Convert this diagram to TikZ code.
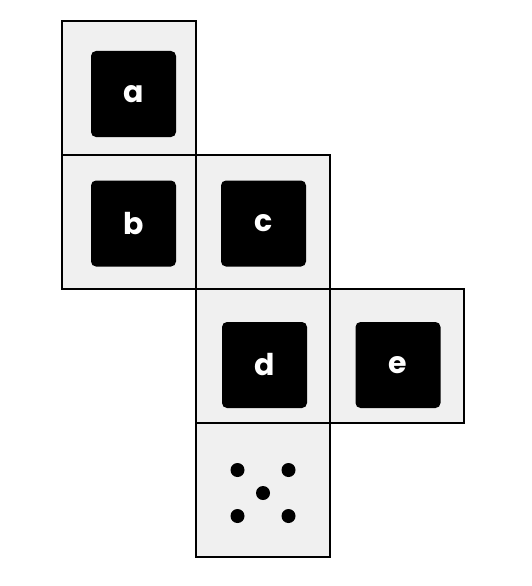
\documentclass[tikz,border=0pt]{standalone}
\usepackage{fontspec}
\setmainfont{Poppins}
\usetikzlibrary{positioning}

\begin{document}
\begin{tikzpicture}[
    x=1pt, y=-1pt,
    face/.style={rectangle, draw, line width=2pt, fill={rgb,255:red,240;green,240;blue,240},
        minimum size=134pt, inner sep=0pt, outer sep=0pt},
    blob/.style={rectangle, fill=black, rounded corners=5pt, minimum width=85pt,
        minimum height=86pt, text=white, font=\fontsize{30}{30}\selectfont\bfseries},
    pip/.style={circle, fill=black, minimum size=14pt, inner sep=0pt}
]
\useasboundingbox (0,0) rectangle (531,586);
% the net of the die
\node (a) [face] at (129,88) {};
\node (b) [face, below=0pt of a] {};
\node (c) [face, right=0pt of b] {};
\node (d) [face, below=0pt of c] {};
\node (e) [face, right=0pt of d] {};
\node (f) [face, below=0pt of d] {};
% covered faces
\node (blobA) [blob] at ([shift={(4.5,6)}]a.center) {a};
\node (blobB) [blob] at ([shift={(4.5,1.5)}]b.center) {b};
\node (blobC) [blob] at ([shift={(0.5,1.5)}]c.center) {c};
\node (blobD) [blob] at ([shift={(1.5,9)}]d.center) {d};
\node (blobE) [blob] at ([shift={(1,9)}]e.center) {e};
% five pips
\node (pip1) [pip] at ([shift={(-25.5,-20)}]f.center) {};
\node (pip2) [pip] at ([shift={(25.5,-20)}]f.center) {};
\node (pip3) [pip] at ([shift={(0,3)}]f.center) {};
\node (pip4) [pip] at ([shift={(-25.5,26)}]f.center) {};
\node (pip5) [pip] at ([shift={(25.5,26)}]f.center) {};
\end{tikzpicture}
\end{document}
